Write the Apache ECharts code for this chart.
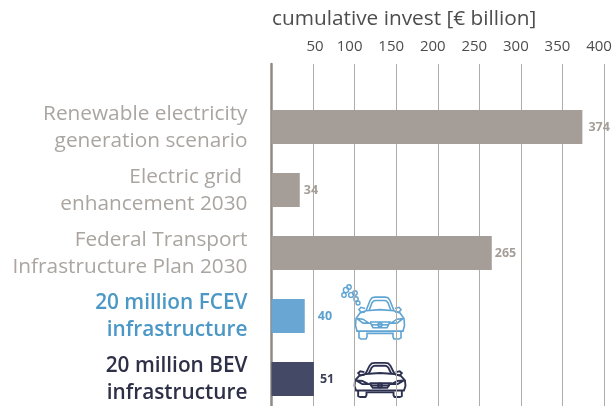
<!DOCTYPE html>
<html>
<head>
<meta charset="utf-8">
<style>html,body{margin:0;padding:0;background:#fff}#c{width:614px;height:406px}</style>
<script src="https://cdn.jsdelivr.net/npm/echarts@6/dist/echarts.min.js"></script>
</head>
<body>
<div id="c"></div>
<script>
const categories = ['', 'Renewable electricity\ngeneration scenario', 'Electric grid \nenhancement 2030', 'Federal Transport\nInfrastructure Plan 2030', '20 million FCEV\ninfrastructure', '20 million BEV\ninfrastructure', ''];
const values = [null, 374, 34, 265, 40, 51, null];
const barColors = ['#a59e98', '#a59e98', '#a59e98', '#a59e98', '#69a6d3', '#444a66', '#a59e98'];
const labelColors = ['#aaa5a0', '#aaa5a0', '#aaa5a0', '#aaa5a0', '#4b97c6', '#2d3047', '#aaa5a0'];
const valueColors = ['#a59e98', '#a59e98', '#a59e98', '#a59e98', '#5ba0cc', '#3c4058', '#a59e98'];
const labelGaps = [0, 6, 4, 3, 13, 6, 0];
const FONT = 'Open Sans';

const CAR_LINES = [
  [[11,13],[15,4],[17,1.5],[20,1],[30,1],[33,1.5],[35,4],[39,13]],
  [[14,13],[17,6],[19,4.2],[21,4],[29,4],[31,4.2],[33,6],[36,13]],
  [[10,11],[6,10],[4,12],[6,14.5],[10,14]],
  [[40,11],[44,10],[46,12],[44,14.5],[40,14]],
  [[11,13],[25,12],[39,13],[45,15],[49,20],[49.5,26],[48,31],[2,31],[0.5,26],[1,20],[5,15],[11,13]],
  [[2,20],[8,24],[14,24],[8,20.5],[2,20]],
  [[48,20],[42,24],[36,24],[42,20.5],[48,20]],
  [[15,23],[35,23],[32,28],[18,28],[15,23]],
  [[16,25.5],[34,25.5]],
  [[4,31],[4,37],[6,38],[11,38],[12,36],[12,33],[38,33],[38,36],[39,38],[44,38],[46,37],[46,31]]
];

function car(color, x, y, w, h, lw) {
  const sx = w / 50, sy = h / 38;
  const style = { stroke: color, lineWidth: lw, fill: null };
  const lines = CAR_LINES.map(pts => ({
    type: 'polyline', silent: true,
    shape: { points: pts.map(p => [x + p[0] * sx, y + p[1] * sy]) },
    style
  }));
  lines.push({ type: 'circle', silent: true, shape: { cx: x + 25 * sx, cy: y + 25.5 * sy, r: 2 }, style });
  return lines;
}
function bubbles(color, x, y) {
  return [[0,0,2.6],[-2,5,2.2],[5,5,2.4],[9,3,2.2],[3,-3,2.2],[10,9,2.2],[12,13,2]].map(b => ({
    type: 'circle', shape: { cx: x + b[0], cy: y + b[1], r: b[2] },
    style: { stroke: color, lineWidth: 1.4, fill: null }, silent: true
  }));
}

const chart = echarts.init(document.getElementById('c'), null, { renderer: 'canvas' });
chart.setOption({
  animation: false,
  backgroundColor: '#fff',
  title: {
    text: 'cumulative invest [\u20ac billion]',
    left: 267, top: 4,
    textStyle: { fontFamily: FONT, fontSize: 20.8, fontWeight: 400, color: '#4d4d4d' }
  },
  grid: { left: 271.5, width: 332.5, top: 64, height: 378, outerBoundsMode: 'none', containLabel: false },
  xAxis: {
    type: 'value', position: 'top', min: 0, max: 400, interval: 50,
    axisLine: { show: false }, axisTick: { show: false },
    axisLabel: {
      fontFamily: FONT, fontSize: 15, color: '#4d4d4d', margin: 10,
      formatter: v => v === 0 ? '' : (v === 50 ? '{first|' + v + '}' : '{rest|' + v + '}'),
      rich: {
        first: { fontFamily: FONT, fontSize: 15, color: '#4d4d4d', padding: [0, 0, 0, 4] },
        rest: { fontFamily: FONT, fontSize: 15, color: '#4d4d4d', padding: [0, 10, 0, 0] }
      }
    },
    splitLine: { show: true, lineStyle: { color: '#b0aca8', width: 1 } }
  },
  yAxis: {
    type: 'category', inverse: true, boundaryGap: false, data: categories,
    axisLine: { show: true, lineStyle: { color: '#8f8a85', width: 2.5 } },
    axisTick: { show: false },
    axisLabel: {
      interval: 0, align: 'right', margin: 24, lineHeight: 27, padding: [2, 0, 0, 0],
      fontFamily: FONT, fontSize: 20.8,
      color: (v, i) => labelColors[i],
      formatter: (v, i) => {
        if (i === 4) return v.split('\n').map(l => '{fcev|' + l + '}').join('\n');
        if (i === 5) return v.split('\n').map(l => '{bev|' + l + '}').join('\n');
        return v;
      },
      rich: {
        fcev: { fontFamily: FONT, fontSize: 20.8, fontWeight: 600, lineHeight: 27, color: labelColors[4] },
        bev: { fontFamily: FONT, fontSize: 20.8, fontWeight: 600, lineHeight: 27, color: labelColors[5] }
      }
    },
    splitLine: { show: false }
  },
  series: [{
    type: 'bar', barWidth: 34,
    data: values.map((v, i) => ({
      value: v,
      itemStyle: { color: barColors[i] },
      label: {
        show: v !== null, position: 'right', distance: labelGaps[i],
        fontFamily: FONT, fontWeight: 700, fontSize: 12.5, color: valueColors[i]
      }
    }))
  }],
  graphic: [
    ...car('#5fa4d3', 355, 296, 50, 43, 1.6),
    ...bubbles('#5fa4d3', 346, 290),
    ...car('#2d3150', 354, 362, 52, 35, 1.9)
  ]
});
</script>
</body>
</html>
